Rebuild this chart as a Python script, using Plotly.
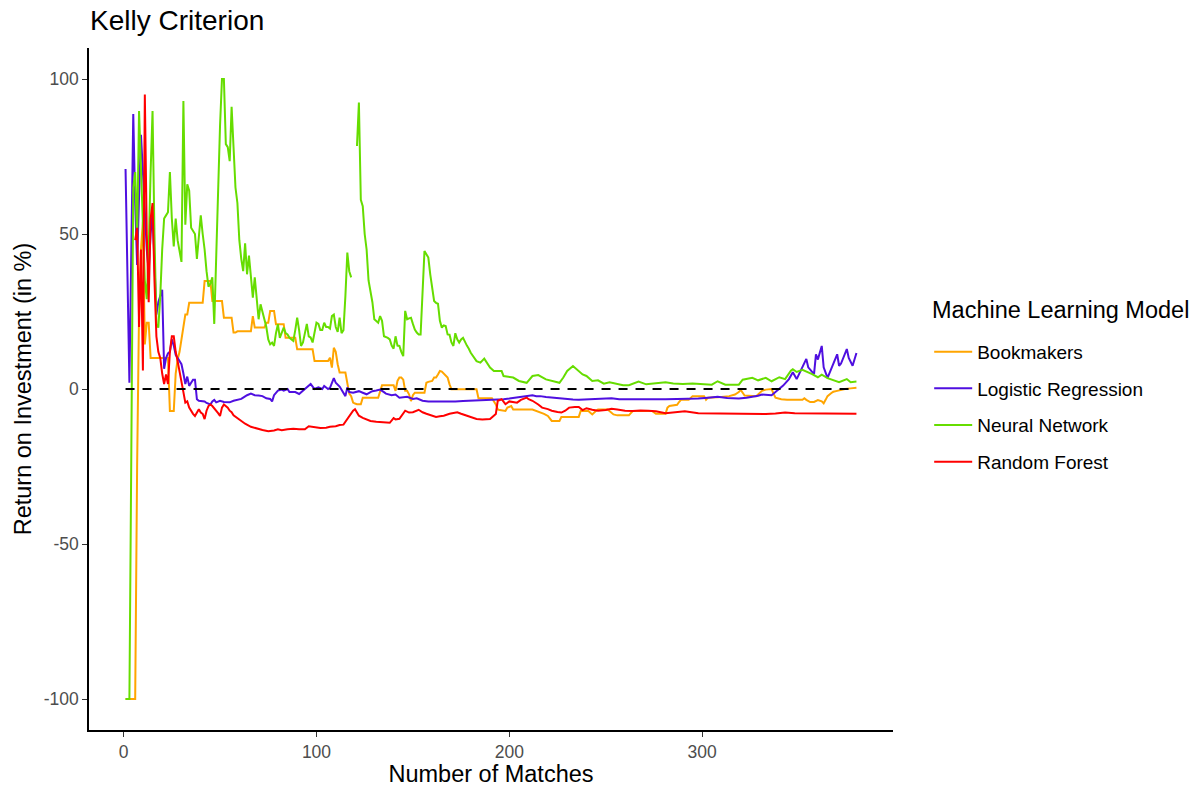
import plotly.graph_objects as go

# ---- Return on investment (%) per number of matches, Kelly criterion staking ----

# Bookmakers
bm_match = [1, 6, 7, 8, 9, 10, 11, 12, 13, 14, 23, 24, 26, 27, 28, 29, 30, 31, 32, 33, 34, 41, 42, 45,
            46, 51, 52, 56, 57, 58, 59, 66, 67, 68, 73, 74, 75, 76, 78, 79, 83, 84, 89, 90, 98, 99, 106,
            107, 108, 109, 110, 111, 112, 115, 116, 117, 118, 119, 120, 121, 123, 124, 132, 133, 134,
            140, 141, 142, 143, 144, 145, 146, 147, 148, 149, 150, 151, 156, 157, 158, 160, 161, 162,
            163, 164, 165, 166, 167, 168, 169, 170, 183, 184, 191, 192, 193, 194, 195, 198, 199, 201,
            202, 212, 215, 218, 220, 221, 222, 226, 227, 236, 237, 241, 242, 243, 245, 246, 251, 252,
            253, 254, 256, 262, 263, 264, 274, 275, 276, 281, 282, 283, 287, 288, 289, 293, 294, 295,
            301, 302, 303, 306, 310, 314, 317, 319, 320, 321, 322, 328, 330, 331, 333, 336, 337, 338,
            341, 344, 352, 353, 354, 356, 358, 360, 362, 363, 364, 365, 367, 368, 370, 374, 377, 380]
bm_roi = [-100, -100, -25, 25, 45, 54, 14.4, 21.4, 21.4, 10, 10, -7.1, -7.1, 5, 9.5, 12, 16, 20, 24, 24,
          27.8, 27.8, 34.8, 34.8, 28.4, 28.4, 23, 23, 18.2, 18.2, 18.6, 18.6, 23.5, 19.8, 19.8, 21.4,
          21.4, 25.2, 25.2, 20.9, 20.9, 16.5, 16.5, 12.8, 12.8, 9, 9, 10.1, 6.9, 13.3, 12, 8, 5.3, 5.3,
          1.5, -1.5, -2.3, -4.4, -4.7, -4.9, -4.9, -2.8, -2.8, -1, 1.2, 1.2, -0.6, 2.6, 3.7, 3.7, 3.0,
          -0.6, -0.6, -1.7, -3.9, -2, -1.2, -1.2, 2, 2.3, 2.6, 3.7, 3.7, 4.7, 5.8, 5.6, 5, 4.5, 3.7, 1.5,
          -0.1, -0.1, -3, -3, -4, -5, -6.6, -6.8, -7.1, -6, -5.5, -6.6, -6.6, -7.2, -8, -8.7, -9.5,
          -10.3, -10.3, -9, -9, -7.1, -7.1, -7.6, -8.2, -7, -6.6, -6.6, -7.2, -7.6, -8.2, -8.5, -8.5,
          -7.8, -7.1, -7.1, -7.5, -8, -8, -6, -5.5, -5.1, -4.2, -3.5, -3.5, -2.8, -2.3, -2.3, -3.5,
          -2.8, -2.8, -2.6, -2.3, -1.8, -1, -0.3, -1.2, -2.1, -2.3, -1.2, -0.6, -0.2, 0, -1.5, -2.8,
          -3.3, -3.5, -3.5, -3, -3.5, -4.2, -4.2, -3.6, -4, -4.6, -3.5, -2.3, -1.3, -0.9, -0.6, 0, 0.2,
          0.4]

# Logistic Regression
lr_match = [1, 2, 3, 4, 5, 6, 7, 8, 9, 10, 11, 12, 13, 14, 15, 16, 17, 18, 19, 20, 21, 22, 23, 24, 25,
            26, 27, 28, 29, 30, 31, 32, 33, 34, 35, 36, 37, 38, 39, 40, 42, 43, 45, 46, 47, 48, 50, 52,
            54, 55, 57, 59, 61, 62, 64, 66, 67, 68, 70, 72, 74, 76, 77, 78, 80, 82, 83, 85, 86, 89, 91,
            93, 95, 97, 99, 101, 103, 104, 106, 107, 109, 110, 112, 114, 115, 116, 117, 119, 121, 122,
            124, 126, 128, 129, 131, 133, 135, 136, 139, 141, 143, 147, 150, 152, 155, 158, 162, 167,
            172, 176, 181, 186, 190, 193, 197, 200, 202, 206, 209, 212, 214, 216, 219, 222, 226, 229,
            233, 236, 240, 245, 249, 253, 257, 260, 264, 270, 276, 281, 287, 293, 298, 303, 308, 313,
            319, 323, 326, 329, 331, 334, 336, 338, 340, 342, 345, 347, 349, 351, 354, 355, 358, 359,
            360, 362, 363, 365, 367, 370, 371, 372, 375, 376, 378, 380]
lr_roi = [71, 30, 2, 45, 88.7, 60, 40, 62, 82, 70, 55, 45, 38, 50, 57, 40, 24, 28, 30, 32, 6.5, 10,
          11.5, 12, 16, 14, 11, 10, 9, 8, 5, 1.6, 4, 1, 2, 3, 3, -3.3, -3.8, -3.9, -4, -4.5, -5, -4,
          -3.5, -4.3, -3.8, -4.2, -4.3, -4.3, -3.8, -3.5, -3.2, -2.8, -2, -1.5, -1.8, -2, -2.1, -2.3,
          -3, -3.2, -4, -2, -0.5, -0.2, -0.5, 0, -1, -1, -1.6, -0.5, 0.5, 1.6, 0, 0.5, 0, 1, 0, 0.4,
          3.5, 2, 0.8, -1, -2.3, 0.5, -1, -1.2, -0.8, -0.7, -1.2, -1.7, -1, -0.7, -0.5, -0.2, -1, -1.5,
          -2, -1.8, -2.8, -2.5, -3.2, -3, -3.8, -4, -4, -4.1, -4, -3.9, -3.8, -3.7, -3.6, -3.5, -3.3,
          -3.1, -2.9, -2.6, -2.2, -2, -2.3, -2.3, -2.6, -2.8, -3.1, -3.3, -3.4, -3.5, -3.4, -3.3, -3.2,
          -3, -3.3, -3.3, -3.5, -3.4, -3.3, -3.3, -3.2, -3.2, -3.1, -2.8, -2.5, -2.9, -3.1, -2.8, -2.6,
          -2.2, -1.8, -2, -2, -1, 0, 1.1, 3.2, 5.4, 3.2, 5.7, 9.7, 7, 4.8, 11.2, 9.5, 13.9, 7, 3.6, 6.5,
          11.2, 7.5, 8.2, 12.9, 10, 7.5, 11.6]

# Neural Network (no value for matches 119-120)
nn_match = list(range(1, 181)) + [183, 185, 187, 190, 192, 196, 197, 200, 202, 205, 209, 212, 215,
                                  219, 222, 226, 228, 230, 233, 235, 238, 240, 243, 246, 249, 252,
                                  255, 259, 262, 265, 267, 271, 276, 281, 285, 290, 295, 300, 305,
                                  308, 312, 319, 321, 326, 329, 333, 336, 340, 343, 346, 347, 349,
                                  352, 357, 360, 362, 365, 371, 375, 377, 380]
nn_roi = [-100, -100, -100, -20, 65, 70, 48, 89.7, 70, 52, 35, 29, 45, 70, 89.7, 50, 21, 19.8, 30, 45,
          55, 56, 57, 70, 55, 46, 55, 48, 44, 41, 92.9, 53, 66, 64, 52, 51, 50, 42, 50, 56, 50, 45, 38,
          33, 34, 36, 21, 42, 68, 85, 100, 100, 79, 78, 73.5, 91, 78, 65, 60, 48, 42, 38, 47, 37, 43,
          35, 29.5, 36, 30, 22.5, 27.3, 24.5, 22, 20, 16, 14.4, 15, 13.9, 18, 20.9, 16.5, 18, 19.8, 18,
          17.6, 16.5, 16, 15.5, 19, 23, 19, 13.9, 15, 18, 21, 17, 16.6, 15, 18, 21.4, 21, 19, 19, 21.4,
          20, 20, 19.5, 23.5, 24, 20, 18.4, 23, 18, 19, 30, 44, 38, 36, None, None, 78.4, 92.4, 61, 59,
          50, 45, 35, 32, 28, 22.5, 22, 21.4, 23.5, 22, 17, 16.8, 16.5, 16, 14, 13, 17, 14, 13.9, 12,
          10.6, 25.2, 22.5, 22.8, 23, 21, 19.2, 18.2, 17.6, 17.6, 30, 44.5, 43.5, 42.4, 37, 32, 28.4,
          27.8, 27.5, 22, 19.8, 20.5, 20.3, 17.6, 17.5, 15, 13.9, 18, 16, 15, 16, 16.5, 15, 14, 13, 11.7,
          9, 8.5, 9.8, 6.9, 5.8, 5.8, 4.2, 4, 3.7, 2.6, 2, 4.2, 4.5, 3.1, 2.6, 2, 3.7, 5.8, 7.4, 6.3,
          4.7, 4.2, 2.6, 2.8, 1.7, 2.2, 1.7, 1.2, 1.2, 2, 2.4, 1.5, 1.8, 2.2, 1.8, 1.6, 1.8, 1.6, 1.4,
          2.5, 1.4, 1.4, 3, 3.6, 2.8, 3.6, 2.5, 3.8, 3.2, 5.9, 6.4, 5.5, 6.2, 4.8, 3.8, 4.6, 3.5, 2.2,
          3.2, 2.2, 2.4]

# Random Forest
rf_match = [6, 7, 8, 9, 10, 11, 12, 13, 14, 15, 16, 17, 18, 19, 20, 21, 22, 23, 24, 25, 26, 27, 28,
            29, 30, 31, 32, 33, 34, 35, 36, 37, 38, 39, 40, 41, 42, 43, 44, 45, 46, 47, 48, 49, 50, 51,
            52, 53, 54, 55, 56, 57, 59, 61, 63, 66, 69, 72, 75, 78, 80, 82, 85, 88, 91, 94, 96, 99, 102,
            105, 107, 110, 112, 114, 116, 117, 119, 120, 122, 124, 126, 128, 131, 134, 136, 138, 140,
            141, 143, 146, 148, 150, 153, 155, 157, 160, 162, 164, 166, 169, 173, 175, 178, 181, 183,
            186, 190, 193, 194, 196, 198, 200, 204, 206, 209, 210, 212, 215, 217, 220, 222, 225, 227,
            229, 231, 234, 236, 238, 240, 243, 246, 250, 253, 256, 260, 264, 268, 272, 276, 281, 286,
            291, 298, 305, 315, 325, 333, 338, 343, 348, 353, 360, 367, 374, 380]
rf_roi = [48, 52, 20, 45, 6, 95, 50, 28, 55, 60, 35, 17, 12, 10, 5, 1.6, 4.7, 1.6, 12, 17, 17, 12, 9, 6,
          3, -1, -4.4, -4, -6, -7.1, -8, -8.7, -7.5, -6.5, -7.6, -8, -9.7, -7, -5.5, -5, -5.5, -6.2, -7,
          -7.8, -8.7, -6, -5, -5.5, -6, -7, -7.5, -8.5, -9.5, -10.5, -11.2, -12.2, -12.8, -13.2, -13.6,
          -13.4, -13, -13.3, -13, -12.8, -13, -13, -12, -12.3, -12.6, -12.5, -12.2, -12, -11.6, -11.5,
          -9.6, -8.5, -7, -6.5, -8.6, -9.3, -9.8, -10.3, -10.6, -10.8, -10.8, -10.9, -9.4, -9.8, -9.6,
          -7, -7.6, -7.5, -6.7, -7.5, -8, -8.7, -9, -8.8, -8.6, -8, -7.5, -8, -8.6, -9.3, -9.7, -9.8,
          -9.7, -8.1, -3.8, -3.3, -4.9, -4, -4.4, -3.5, -2.8, -3.3, -3.8, -5, -6, -6.5, -7, -7.4, -7.6,
          -7, -6, -5.8, -5.8, -6.8, -6.2, -6.7, -7, -6.8, -6.4, -6.6, -7, -7.1, -6.9, -7, -7.2, -7.8,
          -7.4, -7.2, -7.8, -7.9, -8, -8.1, -8.1, -7.9, -7.6, -7.8, -7.8, -7.9, -8, -8, -8]

series = [
    ("Bookmakers", bm_match, bm_roi, "#FFA500"),
    ("Logistic Regression", lr_match, lr_roi, "#4F0FE0"),
    ("Neural Network", nn_match, nn_roi, "#66DD00"),
    ("Random Forest", rf_match, rf_roi, "#FF0000"),
]

x_ticks = [0, 100, 200, 300]
y_ticks = [-100, -50, 0, 50, 100]
y_tick_text = ["-100", "-50", "0", "50", "100"]

FONT = "Liberation Sans, Arial, sans-serif"

fig = go.Figure()
for name, xs, ys, color in series:
    fig.add_trace(go.Scatter(
        x=xs, y=ys, mode="lines", name=name, legendgroup=name,
        line=dict(color=color, width=2), connectgaps=False,
    ))

# break-even reference at 0 %
fig.add_trace(go.Scatter(
    x=[1, 380], y=[0, 0], mode="lines", showlegend=False,
    line=dict(color="black", width=2, dash="9px,8px"), hoverinfo="skip",
))

axis_common = dict(
    showgrid=False, zeroline=False, showline=True, linecolor="black", linewidth=1.5,
    ticks="outside", ticklen=5, tickwidth=1.2, tickcolor="#333333", automargin=False,
    tickfont=dict(family=FONT, size=17.5, color="#4D4D4D"),
)

fig.update_layout(
    width=1198, height=787,
    margin=dict(l=89, r=305, t=48, b=57),
    paper_bgcolor="white", plot_bgcolor="white",
    font=dict(family=FONT, color="black"),
    title=dict(text="Kelly Criterion", x=90 / 1198, xanchor="left", xref="container",
               y=1 - 20 / 787, yanchor="middle", yref="container",
               font=dict(family=FONT, size=28, color="black")),
    xaxis=dict(range=[-17.95, 398.95], tickvals=x_ticks,
               title=dict(text="Number of Matches", font=dict(family=FONT, size=23.5), standoff=5),
               **axis_common),
    yaxis=dict(range=[-110, 110], tickvals=y_ticks, ticktext=y_tick_text,
               title=dict(text="Return on Investment (in %)", font=dict(family=FONT, size=23.5), standoff=5),
               **axis_common),
    legend=dict(
        font=dict(family=FONT, size=19, color="black"),
        x=1.045, xanchor="left", y=0.5824, yanchor="top",
        tracegroupgap=9, itemwidth=38, bgcolor="rgba(0,0,0,0)",
    ),
    annotations=[dict(
        text="Machine Learning Model", xref="paper", yref="paper",
        x=(930 - 89) / (1198 - 89 - 305), y=(730 - 310) / (787 - 48 - 57),
        showarrow=False, font=dict(family=FONT, size=23.5, color="black"),
        xanchor="left", yanchor="middle",
    )],
    showlegend=True,
)

fig.write_html("out.html")
